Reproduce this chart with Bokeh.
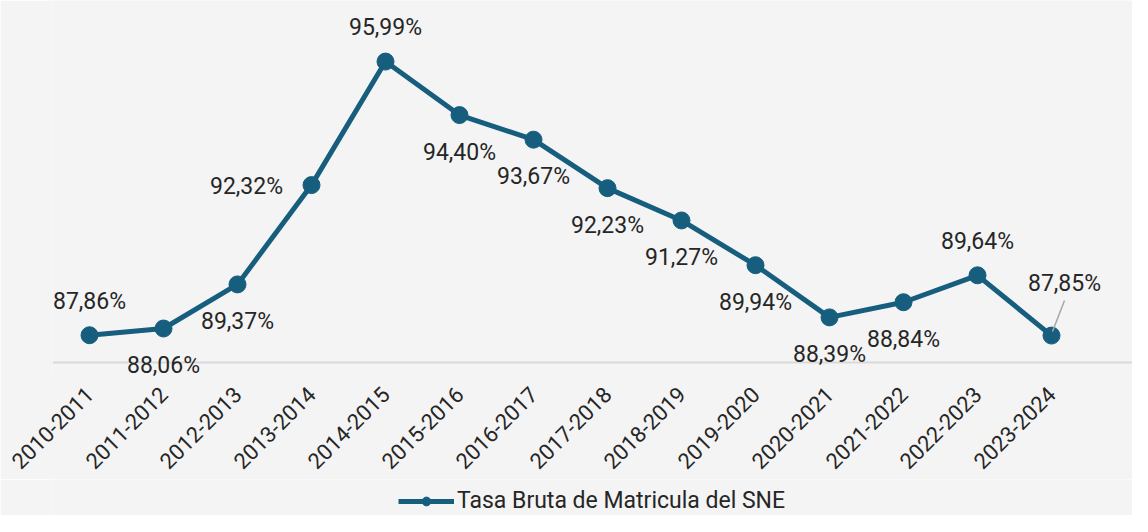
from bokeh.plotting import figure
from bokeh.layouts import column
from bokeh.models import (ColumnDataSource, Legend, LegendItem, FixedTicker, Range1d,
                          LabelSet, Span)
from bokeh.core.properties import value
from bokeh.embed import file_html
from bokeh.resources import INLINE
import math

periods = ["2010-2011", "2011-2012", "2012-2013", "2013-2014", "2014-2015", "2015-2016",
           "2016-2017", "2017-2018", "2018-2019", "2019-2020", "2020-2021", "2021-2022",
           "2022-2023", "2023-2024"]
tasa = [87.86, 88.06, 89.37, 92.32, 95.99, 94.40, 93.67, 92.23, 91.27, 89.94, 88.39, 88.84,
        89.64, 87.85]
series_name = "Tasa Bruta de Matricula del SNE"
placement = ["above", "below", "below", "left", "above", "below", "below", "below", "below",
             "below", "below", "below", "above", "leader"]

COLOR = "#175e7e"
TXT = "#262626"
BG = "#f4f4f4"
FONT = "Roboto"

W, H = 1132, 516
LEFT = 52
FW = W - LEFT
PLOT_H = 362          # frame top to baseline
EXTRA = 16            # frame below baseline (room for labels under the line)
BASE = 87.05          # baseline value
PPU = 33.66           # pixels per unit
STEP = 74.0
x0 = -0.5
x1 = x0 + FW / STEP
y0 = BASE - EXTRA / PPU
y1 = BASE + PLOT_H / PPU

p = figure(frame_width=FW, frame_height=PLOT_H + EXTRA, output_backend="svg",
           toolbar_location=None,
           x_range=Range1d(x0, x1), y_range=Range1d(y0, y1),
           background_fill_color=BG, border_fill_color=BG,
           min_border_left=LEFT, min_border_right=0, min_border_top=0, min_border_bottom=0)
p.outline_line_color = None
p.grid.visible = False
p.yaxis.visible = False

xs = list(range(len(periods)))
src = ColumnDataSource(dict(x=xs, y=tasa, period=periods))

# baseline of the category axis
p.add_layout(Span(location=BASE, dimension="width", line_color="#d9d9d9", line_width=2,
                  level="underlay"))

ln = p.line("x", "y", source=src, line_color=COLOR, line_width=5)
sc = p.scatter("x", "y", source=src, size=17, fill_color=COLOR, line_color=COLOR)

# data labels (screen offsets, y up)
offs = {"above": (0, 34), "below": (0, -37), "left": (-65, -1), "leader": (13, 52)}
lab = ColumnDataSource(dict(
    x=xs, y=tasa,
    t=[f"{v:.2f}".replace(".", ",") + "%" for v in tasa],
    dx=[offs[k][0] for k in placement],
    dy=[offs[k][1] for k in placement],
))
p.add_layout(LabelSet(x="x", y="y", text="t", source=lab, x_offset="dx", y_offset="dy",
                      text_align="center", text_baseline="middle", text_font=value(FONT),
                      text_font_size="23px", text_color=TXT))

# leader line for labels placed away from their point
for i, k in enumerate(placement):
    if k == "leader":
        p.segment(x0=[xs[i] + 1 / STEP], y0=[tasa[i] + 4 / PPU],
                  x1=[xs[i] + 13 / STEP], y1=[tasa[i] + 35 / PPU],
                  line_color="#a6a6a6", line_width=1.5)

xa = p.xaxis[0]
xa.ticker = FixedTicker(ticks=xs)
xa.major_label_overrides = {i: s for i, s in enumerate(periods)}
xa.major_label_orientation = math.pi / 4
xa.major_label_text_font = FONT
xa.major_label_text_font_size = "22px"
xa.major_label_text_color = TXT
xa.axis_line_color = None
xa.major_tick_line_color = None
xa.minor_tick_line_color = None
xa.major_label_standoff = 6

# legend strip below the chart (legend renderers use the same data, outside this view)
LEG_H = 36
q = figure(width=W, height=LEG_H, output_backend="svg", toolbar_location=None,
           x_range=Range1d(-100, -99), y_range=Range1d(-100, -99),
           x_axis_location=None, y_axis_location=None,
           background_fill_color=BG, border_fill_color=BG,
           min_border_left=0, min_border_right=0, min_border_top=0, min_border_bottom=0)
q.outline_line_color = None
q.grid.visible = False
lk = q.line("x", "y", source=src, line_color=COLOR, line_width=5)
sk = q.scatter("x", "y", source=src, size=14, fill_color=COLOR, line_color=COLOR)
legend = Legend(items=[LegendItem(label=series_name, renderers=[lk, sk])],
                location=(346, 1), orientation="horizontal",
                background_fill_alpha=0, border_line_alpha=0,
                glyph_width=56, glyph_height=22, label_standoff=3,
                label_text_font=FONT, label_text_font_size="23px",
                label_text_color=TXT, padding=0, margin=0)
q.add_layout(legend)

open("out.html", "w").write(file_html(column(p, q, spacing=0), INLINE))
